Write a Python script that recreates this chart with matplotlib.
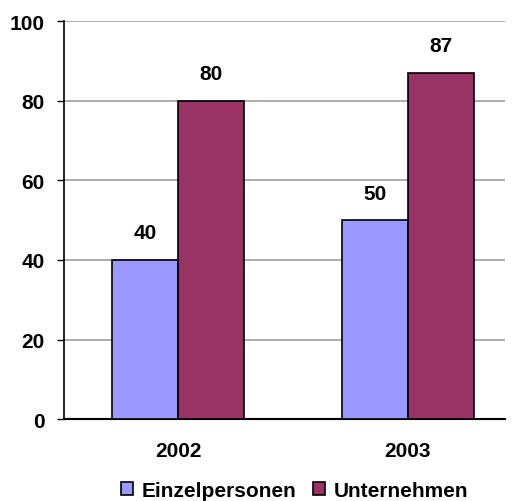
import numpy as np
import matplotlib
matplotlib.use('Agg')
import matplotlib.pyplot as plt

years=['2002','2003']
einzel=[40,50]
unternehmen=[80,87]
names=['Einzelpersonen','Unternehmen']
colors=['#9999FF','#993366']

plt.rcParams['font.family']=['Liberation Sans','DejaVu Sans']
plt.rcParams['font.weight']='bold'

fig=plt.figure(figsize=(5.12,5.02),dpi=100)
ax=fig.add_axes([0.125,0.163,0.861,0.793])
x=np.arange(len(years))
w=0.287
b1=ax.bar(x-w/2,einzel,w,color=colors[0],edgecolor='black',linewidth=1.2,label=names[0],zorder=3)
b2=ax.bar(x+w/2,unternehmen,w,color=colors[1],edgecolor='black',linewidth=1.2,label=names[1],zorder=3)
for bars,vals in [(b1,einzel),(b2,unternehmen)]:
    for r,v in zip(bars,vals):
        ax.text(r.get_x()+r.get_width()/2,v+4.4,str(v),ha='center',va='bottom',fontsize=15,fontweight='bold')
ax.set_xlim(-0.496,1.422)
ax.set_ylim(0,100)
ax.set_yticks([0,20,40,60,80,100])
ax.yaxis.grid(True,color='#A0A0A0',linewidth=1.2,zorder=0)
ax.set_axisbelow(True)
ax.set_xticks(x)
ax.set_xticklabels(years)
ax.tick_params(axis='x',length=0,pad=16,labelsize=15)
ax.tick_params(axis='y',length=5,width=1,direction='out',labelsize=15,pad=9)
for s in ['top','right']:
    ax.spines[s].set_visible(False)
ax.spines['left'].set_linewidth(1.2)
ax.spines['bottom'].set_linewidth(1.5)
leg=fig.legend(handles=[b1,b2],loc='lower center',bbox_to_anchor=(0.575,-0.035),ncol=2,frameon=False,
    fontsize=15,handlelength=0.6,handleheight=0.6,handletextpad=0.4,columnspacing=0.8)
fig.savefig('out.png',dpi=100)
